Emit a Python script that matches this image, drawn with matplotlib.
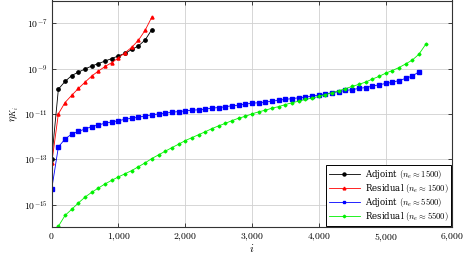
import numpy as np
import matplotlib
matplotlib.use("Agg")
import matplotlib.pyplot as plt
from matplotlib.ticker import FixedLocator, FuncFormatter

plt.rcParams["mathtext.fontset"] = "cm"
plt.rcParams["font.family"] = "DejaVu Serif"

# iteration index i
i_1500 = np.arange(0, 1600, 100)
i_5500_adj = np.arange(0, 5600, 100)
i_5500_res = np.arange(100, 5700, 100)

# log10 of eta_K_i
adj_1500 = [-13.0, -9.91, -9.57, -9.31, -9.16, -9.02, -8.89, -8.78, -8.67, -8.56,
            -8.44, -8.33, -8.16, -8.0, -7.74, -7.28]
res_1500 = [-13.18, -11.0, -10.5, -10.18, -9.88, -9.60, -9.33, -9.11, -8.91, -8.74,
            -8.53, -8.30, -8.06, -7.75, -7.31, -6.73]
adj_5500 = [-14.32, -12.46, -12.11, -11.89, -11.77, -11.67, -11.56, -11.49, -11.41, -11.36,
            -11.30, -11.24, -11.19, -11.15, -11.09, -11.05, -11.0, -10.97, -10.93, -10.90,
            -10.87, -10.84, -10.82, -10.79, -10.75, -10.72, -10.69, -10.64, -10.62, -10.57,
            -10.53, -10.51, -10.48, -10.44, -10.40, -10.36, -10.33, -10.29, -10.26, -10.22,
            -10.17, -10.12, -10.07, -10.02, -9.97, -9.93, -9.88, -9.84, -9.78, -9.72,
            -9.66, -9.61, -9.53, -9.44, -9.33, -9.15]
res_5500 = [-15.96, -15.48, -15.21, -14.93, -14.67, -14.46, -14.27, -14.09, -13.93, -13.78,
            -13.64, -13.50, -13.33, -13.16, -12.97, -12.81, -12.65, -12.49, -12.34, -12.18,
            -12.05, -11.92, -11.79, -11.65, -11.53, -11.42, -11.30, -11.19, -11.11, -11.0,
            -10.91, -10.84, -10.75, -10.68, -10.59, -10.51, -10.44, -10.36, -10.31, -10.23,
            -10.15, -10.07, -9.98, -9.89, -9.79, -9.70, -9.60, -9.47, -9.35, -9.21,
            -9.09, -8.96, -8.80, -8.63, -8.37, -7.94]

labels = [r"Adjoint $(n_e \approx 1500)$", r"Residual $(n_e \approx 1500)$",
          r"Adjoint $(n_e \approx 5500)$", r"Residual $(n_e \approx 5500)$"]

fig = plt.figure(figsize=(4.68, 2.54), dpi=100)
ax = fig.add_axes([51.7 / 468, 26.8 / 254, 400.6 / 468, 226.7 / 254])

lw = 0.6
ax.plot(i_1500, 10.0 ** np.array(adj_1500), color="black", marker="o", ms=2.4, lw=lw, label=labels[0])
ax.plot(i_1500, 10.0 ** np.array(res_1500), color="red", marker="^", ms=2.2, lw=lw, label=labels[1])
ax.plot(i_5500_adj, 10.0 ** np.array(adj_5500), color="blue", marker="s", ms=2.3, lw=lw, label=labels[2])
ax.plot(i_5500_res, 10.0 ** np.array(res_5500), color="#00f000", marker="D", ms=1.5, lw=lw, label=labels[3])

ax.set_yscale("log")
ax.set_xlim(0, 6000)
ax.set_ylim(1e-16, 1e-6)

ax.xaxis.set_major_locator(FixedLocator(np.arange(0, 7000, 1000)))
ax.xaxis.set_major_formatter(FuncFormatter(lambda v, p: r"$%s$" % f"{int(v):,}".replace(",", "{,}")))
ax.yaxis.set_major_locator(FixedLocator([1e-15, 1e-13, 1e-11, 1e-9, 1e-7]))
ax.yaxis.set_minor_locator(FixedLocator([]))
ax.yaxis.set_major_formatter(FuncFormatter(lambda v, p: r"$10^{%d}$" % round(np.log10(v))))

ax.grid(True, color="#d0d0d0", lw=0.6)
ax.set_axisbelow(True)
ax.tick_params(direction="in", length=3, width=0.5, labelsize=7, top=True, right=True, pad=3)
for s in ax.spines.values():
    s.set_linewidth(0.8)
    s.set_color("#333333")

ax.set_xlabel(r"$i$", fontsize=8, va="center")
ax.xaxis.set_label_coords(0.5, -21.0 / 226.7)
ax.set_ylabel(r"$\eta_{K_i}$", fontsize=8, labelpad=2)

leg = ax.legend(loc="lower right", fontsize=6.2, frameon=True, fancybox=False,
                edgecolor="black", framealpha=1, borderaxespad=0.1, handlelength=3.6,
                labelspacing=0.12, borderpad=0.35, markerscale=0.9, handletextpad=0.6)
leg.get_frame().set_linewidth(0.7)

fig.savefig("out.png", dpi=100)
